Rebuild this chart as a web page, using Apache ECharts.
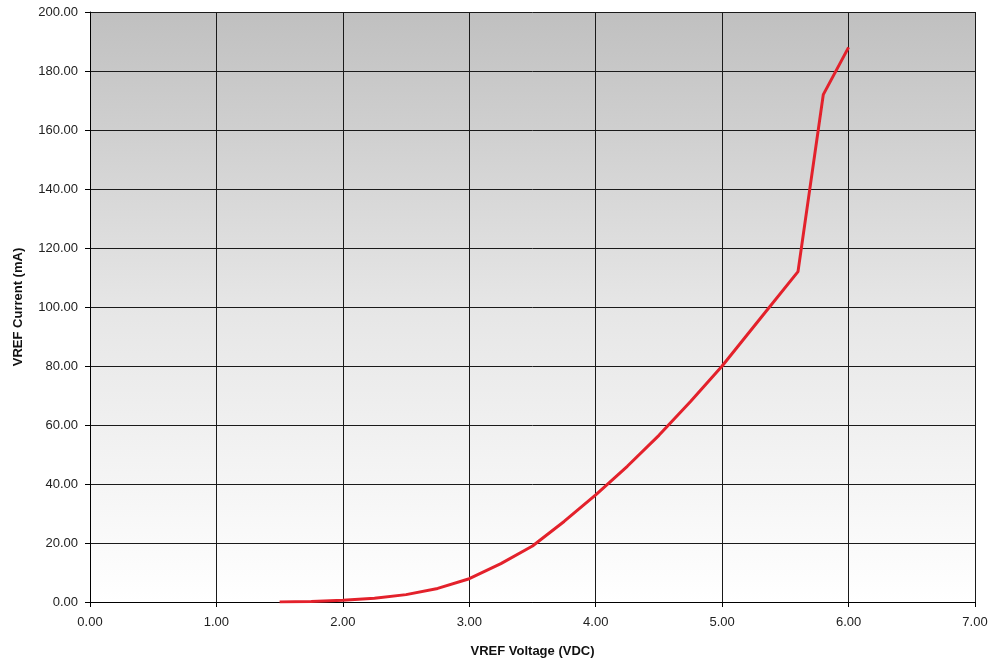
<!DOCTYPE html>
<html>
<head>
<meta charset="utf-8">
<script src="https://cdn.jsdelivr.net/npm/echarts@6/dist/echarts.min.js"></script>
<style>
html,body{margin:0;padding:0;background:#fff;}
#c{width:992px;height:661px;}
</style>
</head>
<body>
<div id="c"></div>
<script>
var voltage = [1.5, 1.75, 2.0, 2.25, 2.5, 2.75, 3.0, 3.25, 3.5, 3.75, 4.0, 4.25, 4.5, 4.75, 5.0, 5.3, 5.6, 5.8, 6.0];
var current = [0.0, 0.2, 0.6, 1.3, 2.5, 4.6, 7.9, 13.0, 19.0, 27.3, 36.3, 46.0, 56.5, 68.0, 80.0, 96.0, 112.0, 172.0, 188.0];
var xTitle = 'VREF Voltage (VDC)';
var yTitle = 'VREF Current (mA)';

var data = voltage.map(function (v, i) { return [v, current[i]]; });
var font = "'Liberation Sans Narrow', 'Liberation Sans', Arial, sans-serif";

var chart = echarts.init(document.getElementById('c'));
chart.setOption({
  animation: false,
  backgroundColor: '#ffffff',
  grid: {
    left: 90, right: 17, top: 12, bottom: 59,
    outerBoundsMode: 'none',
    containLabel: false,
    show: true,
    borderWidth: 0,
    backgroundColor: {
      type: 'linear', x: 0, y: 0, x2: 0, y2: 1,
      colorStops: [
        { offset: 0, color: '#c0c0c0' },
        { offset: 0.5, color: '#e6e6e6' },
        { offset: 1, color: '#ffffff' }
      ]
    }
  },
  xAxis: {
    type: 'value', min: 0, max: 7, interval: 1,
    name: xTitle, nameLocation: 'middle', nameGap: 43,
    nameTextStyle: { fontFamily: font, fontWeight: 'bold', fontSize: 13, color: '#111' },
    axisLine: { show: true, lineStyle: { color: '#000', width: 1 } },
    axisTick: { show: true, length: 5, lineStyle: { color: '#000' } },
    axisLabel: { fontFamily: font, fontSize: 13, color: '#222', margin: 14, formatter: function (v) { return v.toFixed(2); } },
    splitLine: { show: true, lineStyle: { color: '#1a1a1a', width: 1 } }
  },
  yAxis: {
    type: 'value', min: 0, max: 200, interval: 20,
    name: yTitle, nameLocation: 'middle', nameGap: 65,
    nameTextStyle: { fontFamily: font, fontWeight: 'bold', fontSize: 13, color: '#111' },
    axisLine: { show: true, lineStyle: { color: '#000', width: 1 } },
    axisTick: { show: true, length: 5, lineStyle: { color: '#000' } },
    axisLabel: { fontFamily: font, fontSize: 13, color: '#222', margin: 12, formatter: function (v) { return v.toFixed(2); } },
    splitLine: { show: true, lineStyle: { color: '#1a1a1a', width: 1 } }
  },
  series: [{
    type: 'line',
    data: data,
    smooth: false,
    symbol: 'none',
    lineStyle: { color: '#e3212b', width: 3 },
    z: 5
  }]
});
</script>
</body>
</html>
